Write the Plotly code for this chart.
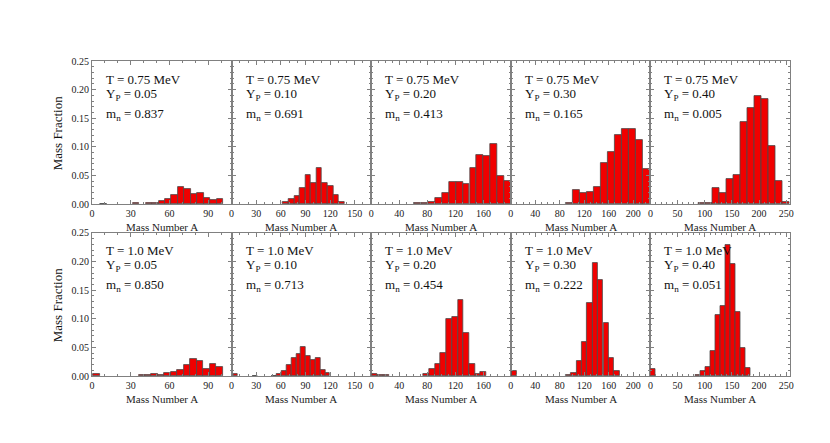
import numpy as np
import plotly.graph_objects as go

# ---------------- data ----------------
temperatures = ["0.75", "1.0"]
yp_values = ["0.05", "0.10", "0.20", "0.30", "0.40"]
mn_t075 = ["0.837", "0.691", "0.413", "0.165", "0.005"]
mn_t100 = ["0.850", "0.713", "0.454", "0.222", "0.051"]

# T = 0.75 MeV
a_075_005 = [9, 34, 44, 49, 54, 59, 64, 69, 74, 79, 84, 89, 94, 99]
f_075_005 = [0.0005, 0.001, 0.002, 0.002, 0.006, 0.009, 0.015, 0.030, 0.026, 0.018, 0.019, 0.010, 0.0065, 0.009]

a_075_010 = [66, 72.8, 79.6, 86.4, 93.2, 100, 106.8, 113.6, 120.4, 127.2, 134]
f_075_010 = [0.003, 0.009, 0.0135, 0.028, 0.051, 0.037, 0.063, 0.037, 0.031, 0.016, 0.004]

a_075_020 = [66, 75.9, 85.8, 95.8, 105.7, 115.6, 125.5, 135.4, 145.4, 155.3, 165.2, 175.1, 185, 195]
f_075_020 = [0.001, 0.001, 0.004, 0.011, 0.019, 0.039, 0.038, 0.035, 0.063, 0.085, 0.084, 0.105, 0.049, 0.040]

a_075_030 = [96, 107.4, 118.7, 130.1, 141.4, 152.8, 164.2, 175.5, 186.9, 198.2, 209.6, 221]
f_075_030 = [0.001, 0.0245, 0.019, 0.021, 0.029, 0.072, 0.0905, 0.121, 0.131, 0.132, 0.1115, 0.062]

a_075_040 = [94.5, 107.4, 120.3, 133.1, 146, 158.9, 171.8, 184.6, 197.5, 210.4, 223.3, 236.1, 249]
f_075_040 = [0.001, 0.001, 0.0275, 0.019, 0.044, 0.051, 0.143, 0.168, 0.188, 0.183, 0.1015, 0.040, 0.003]

# T = 1.0 MeV
a_100_005 = [3.5, 38.5, 43.5, 48.5, 53.5, 58.5, 63.5, 68.5, 73.5, 78.5, 83.5, 88.5, 93.5, 98.5]
f_100_005 = [0.003, 0.001, 0.0025, 0.003, 0.0015, 0.005, 0.0075, 0.011, 0.0185, 0.029, 0.026, 0.012, 0.0205, 0.016]

a_100_010 = [4.8, 28.4, 52, 57.9, 63.8, 69.7, 75.6, 81.5, 87.4, 93.3, 99.2, 105.1, 111, 116.9]
f_100_010 = [0.004, 0.0005, 0.0005, 0.0035, 0.0088, 0.0195, 0.032, 0.038, 0.051, 0.035, 0.0275, 0.032, 0.0105, 0.006]

a_100_020 = [5.2, 13.3, 21.5, 78.5, 86.7, 94.8, 103, 111.1, 119.3, 127.4, 135.6, 143.7, 151.9, 160]
f_100_020 = [0.004, 0.001, 0.001, 0.003, 0.013, 0.0215, 0.0395, 0.1005, 0.103, 0.133, 0.0755, 0.0205, 0.003, 0.007]

a_100_030 = [6.2, 94, 102.8, 111.6, 120.3, 129.1, 137.9, 146.7, 155.5, 164.2, 173]
f_100_030 = [0.0088, 0.0015, 0.0045, 0.0255, 0.0595, 0.1275, 0.197, 0.1675, 0.0935, 0.032, 0.0095]

a_100_040 = [4.8, 87.8, 97, 106.2, 115.4, 124.7, 133.9, 143.1, 152.3, 161.6, 170.8, 180]
f_100_040 = [0.0115, 0.0015, 0.009, 0.016, 0.0445, 0.107, 0.123, 0.229, 0.195, 0.1115, 0.0495, 0.0135]

panels = [
    [(a_075_005, f_075_005), (a_075_010, f_075_010), (a_075_020, f_075_020),
     (a_075_030, f_075_030), (a_075_040, f_075_040)],
    [(a_100_005, f_100_005), (a_100_010, f_100_010), (a_100_020, f_100_020),
     (a_100_030, f_100_030), (a_100_040, f_100_040)],
]
mn_rows = [mn_t075, mn_t100]

# ---------------- layout / style ----------------
x_max = [108, 170, 199, 228, 257]
x_dtick = [30, 30, 40, 40, 50]
row_domains = [[0.546, 1.0], [0.0, 0.454]]
FONT = "Liberation Serif"
BAR_COLOR = "#f00000"
EDGE = "#4a4a4a"
AXIS = "#808080"

fig = go.Figure()
layout = {}
annotations = []

for r in range(2):
    for c in range(5):
        idx = r * 5 + c + 1
        sfx = "" if idx == 1 else str(idx)
        xa, ya = "x" + sfx, "y" + sfx
        a, f = panels[r][c]
        a = np.asarray(a, dtype=float)
        w = float(np.min(np.diff(a)))
        fig.add_trace(go.Bar(
            x=a, y=f, width=w, xaxis=xa, yaxis=ya, showlegend=False,
            marker=dict(color=BAR_COLOR, line=dict(color=EDGE, width=0.8)),
        ))
        layout["xaxis" + sfx] = dict(
            domain=[c / 5, (c + 1) / 5], anchor=ya, range=[0, x_max[c]],
            tick0=0, dtick=x_dtick[c], ticks="inside", ticklen=4,
            tickcolor=AXIS, showline=True, linecolor=AXIS, linewidth=1,
            mirror="ticks", showgrid=False, zeroline=False,
            minor=dict(ticks="inside", ticklen=2, dtick=10, tickcolor=AXIS),
            tickfont=dict(family=FONT, size=10, color="#222"),
            fixedrange=True,
        )
        layout["yaxis" + sfx] = dict(
            domain=row_domains[r], anchor=xa, range=[0, 0.25],
            tick0=0, dtick=0.05, tickformat=".2f", ticks="inside", ticklen=4,
            tickcolor=AXIS, showline=True, linecolor=AXIS, linewidth=1,
            mirror="ticks", showgrid=False, zeroline=False,
            showticklabels=(c == 0),
            minor=dict(ticks="inside", ticklen=2, dtick=0.01, tickcolor=AXIS),
            tickfont=dict(family=FONT, size=10, color="#222"),
            fixedrange=True,
        )
        xd, yd = xa + " domain", ya + " domain"
        texts = [
            ("T = " + temperatures[r] + " MeV", -18),
            ("Y<sub>P</sub> = " + yp_values[c], -33),
            ("m<sub>n</sub> = " + mn_rows[r][c], -53),
        ]
        for t, ys in texts:
            annotations.append(dict(
                text=t, xref=xd, yref=yd, x=0, y=1, xanchor="left",
                yanchor="middle", xshift=12, yshift=ys, showarrow=False,
                font=dict(family=FONT, size=13, color="#111"),
            ))
        annotations.append(dict(
            text="Mass Number A", xref=xd, yref=yd, x=0.5, y=0,
            xanchor="center", yanchor="top", yshift=-15, showarrow=False,
            font=dict(family=FONT, size=11, color="#222"),
        ))
    annotations.append(dict(
        text="Mass Fraction", xref="paper", yref="paper", x=-0.049,
        y=sum(row_domains[r]) / 2, xanchor="center", yanchor="middle",
        textangle=-90, showarrow=False,
        font=dict(family=FONT, size=13, color="#111"),
    ))

fig.update_layout(
    **layout,
    annotations=annotations,
    width=830, height=443,
    margin=dict(l=84, r=48, t=53, b=75),
    paper_bgcolor="white", plot_bgcolor="white",
    bargap=0, font=dict(family=FONT),
)

fig.write_html("out.html")
